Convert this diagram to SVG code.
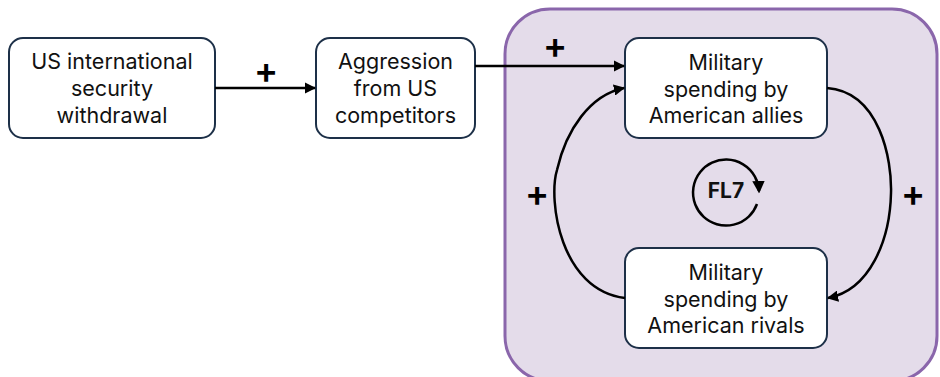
<svg xmlns="http://www.w3.org/2000/svg" width="940" height="377" viewBox="0 0 940 377">
<style>
.node rect{fill:#fff;stroke:#1d3048;stroke-width:2}
.node text{font-family:Inter,"Noto Sans",sans-serif;font-size:21.5px;fill:#111;text-anchor:middle}
.lbl{font-family:Inter,"Noto Sans",sans-serif;font-size:36px;font-weight:600;fill:#000;text-anchor:middle;dominant-baseline:central}
.con{fill:none;stroke:#000;stroke-width:2.5}
</style>
<defs>
<marker id="ah" viewBox="0 0 10 10" refX="9" refY="5" markerWidth="4.5" markerHeight="4.5" orient="auto" markerUnits="strokeWidth">
<path d="M0,0 L10,5 L0,10 Z" fill="#000"/>
</marker>
<marker id="ah2" viewBox="0 0 10 10" refX="8" refY="5" markerWidth="5" markerHeight="5" orient="auto" markerUnits="strokeWidth">
<path d="M0,0 L10,5 L0,10 Z" fill="#000"/>
</marker>
</defs>
<rect id="boundary" x="505" y="9" width="432" height="372" rx="45" fill="#e4dcea" stroke="#8a66ab" stroke-width="3"/>
<g id="n1" class="node">
<rect x="9" y="38" width="206" height="100" rx="14"/>
<text x="112" y="69">US international</text>
<text x="112" y="96">security</text>
<text x="112" y="123">withdrawal</text>
</g>
<g id="n2" class="node">
<rect x="316" y="38" width="159" height="100" rx="14"/>
<text x="395.5" y="69">Aggression</text>
<text x="395.5" y="96">from US</text>
<text x="395.5" y="123">competitors</text>
</g>
<g id="n3" class="node">
<rect x="625" y="38" width="202" height="100" rx="14"/>
<text x="726" y="70">Military</text>
<text x="726" y="97">spending by</text>
<text x="726" y="123">American allies</text>
</g>
<g id="n4" class="node">
<rect x="625" y="248" width="202" height="100" rx="14"/>
<text x="726" y="280">Military</text>
<text x="726" y="307">spending by</text>
<text x="726" y="333">American rivals</text>
</g>
<g id="connectors">
<path class="con" d="M215,88 L315,88" marker-end="url(#ah)"/>
<path class="con" d="M475,66 L624,66" marker-end="url(#ah)"/>
<path class="con" d="M625,298 C560,290 548,200 557,170 C566,130 590,95 624,88" marker-end="url(#ah)"/>
<path class="con" d="M827,88 C880,92 892,160 891,193 C890,240 870,290 828,298" marker-end="url(#ah)"/>
<path class="con" d="M757,204 A33,33 0 1 1 759,191" stroke-width="2" marker-end="url(#ah2)"/>
</g>
<g id="labels">
<text class="lbl" x="266" y="70">+</text>
<text class="lbl" x="555" y="45">+</text>
<text class="lbl" x="537" y="193">+</text>
<text class="lbl" x="913" y="193">+</text>
<text x="726" y="198" style="font-family:Inter,sans-serif;font-size:21px;font-weight:700;text-anchor:middle;fill:#111">FL7</text>
</g>
</svg>
